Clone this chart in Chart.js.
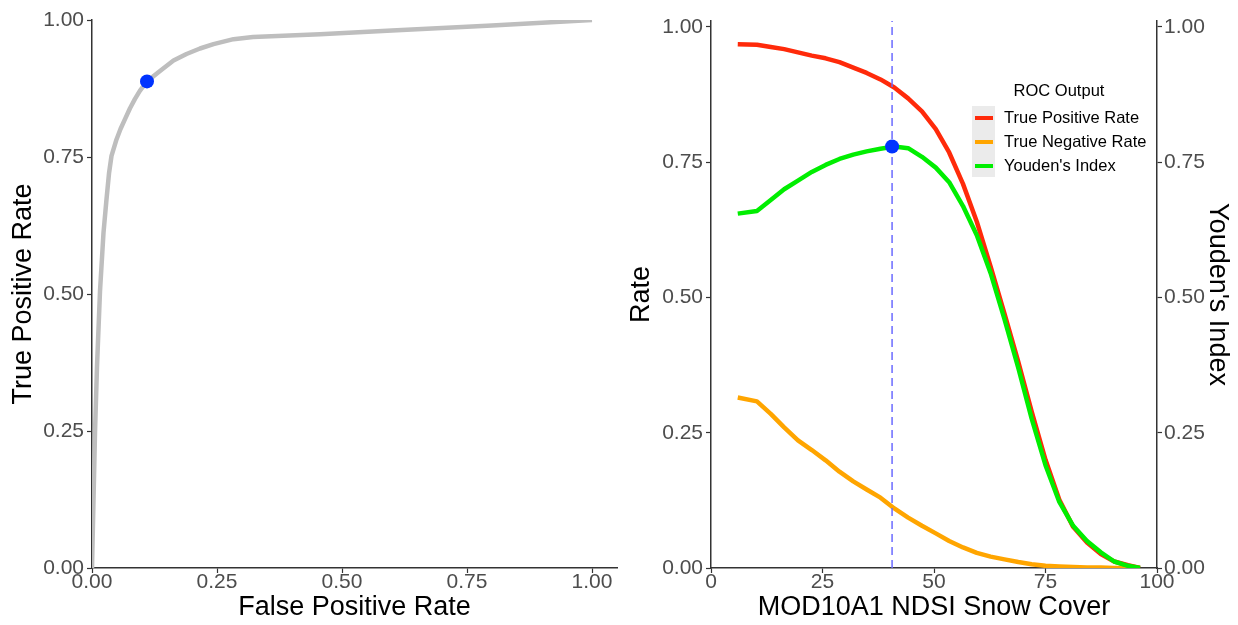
<!DOCTYPE html>
<html>
<head>
<meta charset="utf-8">
<script src="https://cdn.jsdelivr.net/npm/chart.js@4.4.1/dist/chart.umd.min.js"></script>
<style>
  html, body { margin: 0; padding: 0; background: #fff; }
  body { width: 1238px; height: 625px; position: relative; overflow: hidden; }
  .box { position: absolute; top: 0; height: 625px; }
</style>
</head>
<body>
<div class="box" style="left:0;width:630px"><canvas id="roc_chart"></canvas></div>
<div class="box" style="left:620px;width:618px"><canvas id="thresh_chart"></canvas></div>
<script>
// ROC curve (left)
const fpr = [0, 0.003, 0.006, 0.01, 0.016, 0.023, 0.029, 0.034, 0.039, 0.049, 0.057, 0.066, 0.076, 0.086, 0.096, 0.11, 0.136, 0.163, 0.189, 0.216, 0.243, 0.283, 0.322, 0.456, 0.6, 0.8, 1.0];
const tpr = [0, 0.124, 0.247, 0.368, 0.505, 0.612, 0.673, 0.72, 0.752, 0.782, 0.801, 0.819, 0.839, 0.856, 0.871, 0.888, 0.907, 0.926, 0.938, 0.948, 0.956, 0.965, 0.969, 0.974, 0.981, 0.99, 1.0];
const optimalFpr = 0.11;
const optimalTpr = 0.888;

// threshold curves (right)
const thresholds = [6, 10.3, 13.4, 16.4, 19.5, 22.6, 25.7, 28.8, 31.9, 34.9, 38, 41.1, 44.2, 47.3, 50.4, 53.4, 56.5, 59.6, 62.7, 65.8, 68.9, 71.9, 75, 78.1, 81.2, 84.3, 87.4, 90.4, 93.5, 96.2];
const truePosRate = [0.968, 0.967, 0.963, 0.959, 0.953, 0.947, 0.942, 0.935, 0.925, 0.915, 0.903, 0.888, 0.868, 0.844, 0.811, 0.768, 0.71, 0.64, 0.557, 0.47, 0.381, 0.289, 0.2, 0.126, 0.076, 0.047, 0.026, 0.012, 0.005, 0];
const trueNegRate = [0.315, 0.308, 0.285, 0.26, 0.236, 0.218, 0.199, 0.178, 0.16, 0.145, 0.13, 0.11, 0.093, 0.078, 0.064, 0.05, 0.038, 0.028, 0.021, 0.016, 0.011, 0.007, 0.004, 0.003, 0.002, 0.001, 0.001, 0, 0, 0];
const youden = [0.655, 0.66, 0.68, 0.7, 0.716, 0.732, 0.745, 0.756, 0.764, 0.77, 0.775, 0.779, 0.776, 0.76, 0.74, 0.713, 0.669, 0.615, 0.545, 0.46, 0.37, 0.276, 0.19, 0.122, 0.078, 0.05, 0.029, 0.012, 0.004, 0];
const optimalThreshold = 40.6;
const optimalYouden = 0.779;

const legendLabels = ["True Positive Rate", "True Negative Rate", "Youden's Index"];
const legendColors = ["#ff2a0a", "#ffa500", "#00ee00"];

const fontFamily = "'Liberation Sans', Arial, sans-serif";
const tickGrey = "#4d4d4d";
const axisGrey = "#333333";

function pts(xs, ys) {
  return xs.map((x, i) => ({ x: x, y: ys[i] }));
}

function fixedTicks(values) {
  return function (scale) {
    scale.ticks = values.map((v) => ({ value: v }));
  };
}

function axisStyle(extra) {
  return Object.assign({
    grid: { drawOnChartArea: false, drawTicks: true, tickLength: 5, tickColor: axisGrey, tickWidth: 1.2 },
    border: { display: true, color: axisGrey, width: 1.5 },
  }, extra);
}

const rateTicks = [0, 0.25, 0.5, 0.75, 1.0];

// left chart
const roc_ctx = document.getElementById("roc_chart").getContext("2d");
const rocChart = new Chart(roc_ctx, {
  type: "line",
  data: {
    datasets: [
      {
        data: [{ x: optimalFpr, y: optimalTpr }],
        showLine: false,
        pointRadius: 7,
        pointBackgroundColor: "#0033ff",
        pointBorderWidth: 0,
        order: 0,
      },
      {
        data: pts(fpr, tpr),
        borderColor: "#bebebe",
        borderWidth: 4.5,
        pointRadius: 0,
        tension: 0,
        borderJoinStyle: "round",
        order: 1,
      },
    ],
  },
  options: {
    responsive: true,
    maintainAspectRatio: false,
    animation: false,
    events: [],
    layout: { padding: { top: 20, right: 13, left: 0, bottom: 0 } },
    plugins: { legend: { display: false }, tooltip: { enabled: false } },
    scales: {
      x: axisStyle({
        type: "linear",
        min: 0,
        max: 1.05,
        afterBuildTicks: fixedTicks(rateTicks),
        afterFit: function (scale) { scale.height = 57; },
        ticks: { color: tickGrey, font: { family: fontFamily, size: 21 }, padding: -3, maxRotation: 0,
          callback: (v) => v.toFixed(2) },
        title: { display: true, text: "False Positive Rate", color: "#000",
          font: { family: fontFamily, size: 27 }, padding: { top: 0, bottom: 1 } },
      }),
      y: axisStyle({
        type: "linear",
        min: 0,
        max: 1.0,
        afterBuildTicks: fixedTicks(rateTicks),
        afterFit: function (scale) { scale.width = 92; },
        ticks: { color: tickGrey, font: { family: fontFamily, size: 21 }, padding: 3,
          callback: (v) => v.toFixed(2) },
        title: { display: true, text: "True Positive Rate", color: "#000",
          font: { family: fontFamily, size: 27 }, padding: { top: 7, bottom: 0 } },
      }),
    },
  },
});

// legend drawn inside the right panel
const rocLegend = {
  id: "rocLegend",
  afterDraw(chart) {
    const ctx = chart.ctx;
    const ox = 972 - 620;
    ctx.save();
    ctx.fillStyle = "#000";
    ctx.font = "16.5px " + fontFamily;
    ctx.textAlign = "center";
    ctx.textBaseline = "middle";
    ctx.fillText("ROC Output", 1059 - 620, 91);
    ctx.fillStyle = "#ebebeb";
    ctx.fillRect(ox, 106, 23, 71);
    ctx.textAlign = "left";
    legendLabels.forEach((lab, i) => {
      const y = 118 + i * 24;
      ctx.strokeStyle = legendColors[i];
      ctx.lineWidth = 4;
      ctx.beginPath();
      ctx.moveTo(ox + 3, y);
      ctx.lineTo(ox + 21, y);
      ctx.stroke();
      ctx.fillStyle = "#000";
      ctx.fillText(lab, 1004 - 620, y);
    });
    ctx.restore();
  },
};

// right chart
const thresh_ctx = document.getElementById("thresh_chart").getContext("2d");
const threshChart = new Chart(thresh_ctx, {
  type: "line",
  data: {
    datasets: [
      {
        data: [{ x: optimalThreshold, y: optimalYouden }],
        showLine: false,
        pointRadius: 7,
        pointBackgroundColor: "#0033ff",
        pointBorderWidth: 0,
        yAxisID: "y2",
        order: 0,
      },
      {
        data: [{ x: optimalThreshold, y: 0 }, { x: optimalThreshold, y: 1.011 }],
        borderColor: "#6b6bff",
        borderWidth: 1.5,
        borderDash: [8, 5],
        pointRadius: 0,
        order: 1,
      },
      {
        label: legendLabels[2],
        data: pts(thresholds, youden),
        borderColor: legendColors[2],
        borderWidth: 4.5,
        pointRadius: 0,
        tension: 0,
        borderJoinStyle: "round",
        yAxisID: "y2",
        order: 2,
      },
      {
        label: legendLabels[0],
        data: pts(thresholds, truePosRate),
        borderColor: legendColors[0],
        borderWidth: 4.5,
        pointRadius: 0,
        tension: 0,
        borderJoinStyle: "round",
        order: 3,
      },
      {
        label: legendLabels[1],
        data: pts(thresholds, trueNegRate),
        borderColor: legendColors[1],
        borderWidth: 4.5,
        pointRadius: 0,
        tension: 0,
        borderJoinStyle: "round",
        order: 4,
      },
    ],
  },
  options: {
    responsive: true,
    maintainAspectRatio: false,
    animation: false,
    events: [],
    layout: { padding: { top: 21, right: 0, left: 0, bottom: 0 } },
    plugins: { legend: { display: false }, tooltip: { enabled: false } },
    scales: {
      x: axisStyle({
        type: "linear",
        min: 0,
        max: 100,
        afterBuildTicks: fixedTicks([0, 25, 50, 75, 100]),
        afterFit: function (scale) { scale.height = 57; },
        ticks: { color: tickGrey, font: { family: fontFamily, size: 21 }, padding: -3, maxRotation: 0 },
        title: { display: true, text: "MOD10A1 NDSI Snow Cover", color: "#000",
          font: { family: fontFamily, size: 27 }, padding: { top: 0, bottom: 1 } },
      }),
      y: axisStyle({
        type: "linear",
        position: "left",
        min: 0,
        max: 1.011,
        afterBuildTicks: fixedTicks(rateTicks),
        afterFit: function (scale) { scale.width = 91; },
        ticks: { color: tickGrey, font: { family: fontFamily, size: 21 }, padding: 3,
          callback: (v) => v.toFixed(2) },
        title: { display: true, text: "Rate", color: "#000",
          font: { family: fontFamily, size: 27 }, padding: { top: 5, bottom: 0 } },
      }),
      y2: axisStyle({
        type: "linear",
        position: "right",
        min: 0,
        max: 1.011,
        afterBuildTicks: fixedTicks(rateTicks),
        afterFit: function (scale) { scale.width = 81; },
        ticks: { color: tickGrey, font: { family: fontFamily, size: 21 }, padding: 2,
          callback: (v) => v.toFixed(2) },
        title: { display: true, text: "Youden's Index", color: "#000",
          font: { family: fontFamily, size: 27 }, padding: { top: 4, bottom: 0 } },
      }),
    },
  },
  plugins: [rocLegend],
});
</script>
</body>
</html>
